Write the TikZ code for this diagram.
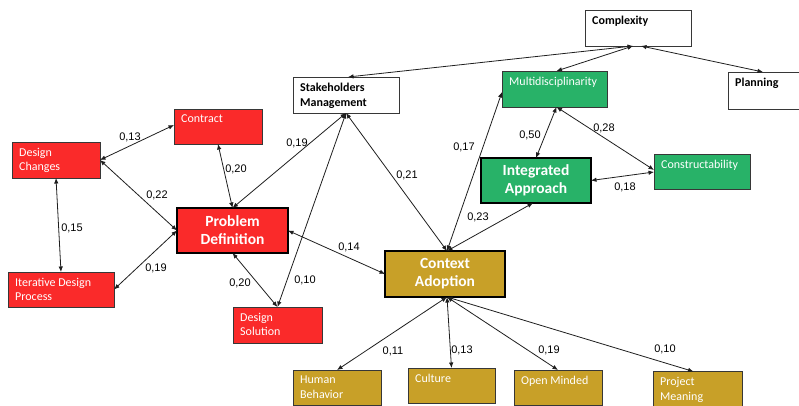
\documentclass[tikz,border=0pt]{standalone}
\usepackage{fontspec}
\setmainfont{Carlito}
\newfontfamily\numfont{Liberation Sans}
\usetikzlibrary{arrows.meta}
\definecolor{boxred}{RGB}{250,42,42}
\definecolor{boxgreen}{RGB}{40,178,104}
\definecolor{boxgold}{RGB}{200,160,40}
\definecolor{boxline}{RGB}{55,55,55}
\definecolor{linkcol}{RGB}{30,30,30}
\begin{document}
\begin{tikzpicture}[x=1pt,y=-1pt,
  box/.style={draw=boxline, line width=0.8pt, rectangle, inner sep=0pt, outer sep=0pt},
  small/.style={box, minimum width=#1, minimum height=35pt},
  big/.style={box, line width=1.3pt, draw=black, text=white, align=center,
    font=\fontsize{15.5}{18}\selectfont\bfseries},
  wtl/.style={label={[anchor=north west, inner sep=0pt, xshift=7pt, yshift=-6pt,
    align=left, text=white, font=\fontsize{12}{14.5}\selectfont]north west:#1}},
  ktl/.style={label={[anchor=north west, inner sep=0pt, xshift=7pt, yshift=-6pt,
    align=left, text=black, font=\fontsize{12}{14.5}\selectfont\bfseries]north west:#1}},
  link/.style={draw=linkcol, line width=0.8pt, {Latex[length=5.5pt,width=4.5pt]}-{Latex[length=5.5pt,width=4.5pt]}},
  lbl/.style={font=\numfont\fontsize{11}{13}\selectfont, inner sep=0pt, text=black}
]
\useasboundingbox (0,0) rectangle (799,406);

% top row: white context boxes
\node[small=106pt, minimum height=36pt, fill=white, ktl={Complexity}] (cx) at (638,28) {};
\node[small=106pt, minimum height=36pt, fill=white, ktl={Stakeholders\\Management}] (st) at (346,95) {};
\node[small=84pt, minimum height=37pt, fill=white, ktl={Planning}] (pl) at (770,90.5) {};

% green cluster
\node[small=105pt, minimum height=36pt, fill=boxgreen, wtl={Multidisciplinarity}] (mu) at (554.5,89) {};
\node[big, fill=boxgreen, minimum width=110pt, minimum height=45pt] (ig) at (536,180.5) {Integrated\\Approach};
\node[small=96pt, fill=boxgreen, wtl={Constructability}] (co) at (702,171.5) {};

% red cluster
\node[small=88pt, minimum height=36pt, fill=boxred, wtl={Design\\Changes}] (dc) at (56,160) {};
\node[small=88pt, fill=boxred, wtl={Contract}] (ct) at (218,126.5) {};
\node[big, fill=boxred, minimum width=111pt, minimum height=45pt] (pd) at (232.5,230.5) {Problem\\Definition};
\node[small=106pt, fill=boxred, wtl={Iterative Design\\Process}] (it) at (61,289.5) {};
\node[small=89pt, minimum height=36pt, fill=boxred, wtl={Design\\Solution}] (ds) at (277.5,325) {};

% gold cluster
\node[big, fill=boxgold, minimum width=120pt, minimum height=46pt] (ca) at (445,274) {Context\\Adoption};
\node[small=88pt, fill=boxgold, wtl={Human\\Behavior}] (hb) at (337,387.5) {};
\node[small=87pt, fill=boxgold, wtl={Culture}] (cu) at (451.5,385.5) {};
\node[small=88pt, fill=boxgold, wtl={Open Minded}] (om) at (558,387.5) {};
\node[small=89pt, fill=boxgold, wtl={Project\\Meaning}] (pm) at (697.5,389) {};

% connectors
\draw[link] ([xshift=-5pt]cx.south) -- ([xshift=2pt]st.north);
\draw[link] ([xshift=-5pt]cx.south) -- ([xshift=2pt]mu.north);
\draw[link] ([xshift=3pt]cx.south) -- ([xshift=-7pt]pl.north);

\draw[link] (st.south) -- (pd.north);
\draw[link] (st.south) -- (ds.north);
\draw[link] (st.south) -- ([xshift=2pt]ca.north);

\draw[link] ([xshift=2pt]ca.north) -- ([yshift=-3pt]mu.west);
\draw[link] ([xshift=2pt]ca.north) -- ([xshift=-3pt]ig.south);
\draw[link] ([xshift=2pt]mu.south) -- (ig.north);
\draw[link] ([xshift=2pt]mu.south) -- ([yshift=1.5pt]co.west);
\draw[link] (ig.east) -- ([yshift=-0.5pt]co.west);

\draw[link] (dc.east) -- ([yshift=1.5pt]ct.west);
\draw[link] (dc.east) -- (pd.west);
\draw[link] (dc.south) -- (it.north);
\draw[link] (it.east) -- (pd.west);
\draw[link] (ct.south) -- (pd.north);
\draw[link] (pd.south) -- (ds.north);
\draw[link] (pd.east) -- (ca.west);

\draw[link] ([xshift=2pt]ca.south) -- (hb.north);
\draw[link] ([xshift=2pt]ca.south) -- (cu.north);
\draw[link] ([xshift=2pt]ca.south) -- (om.north);
\draw[link] ([xshift=2pt]ca.south) -- ([xshift=-4pt]pm.north);

% path coefficients
\node[lbl] (w1) at (130,137) {0,13};
\node[lbl] (w2) at (157,195) {0,22};
\node[lbl] (w3) at (72,228) {0,15};
\node[lbl] (w4) at (156,268) {0,19};
\node[lbl] (w5) at (236,169) {0,20};
\node[lbl] (w6) at (297,143) {0,19};
\node[lbl] (w7) at (305,280) {0,10};
\node[lbl] (w8) at (407,175) {0,21};
\node[lbl] (w9) at (240,283) {0,20};
\node[lbl] (w10) at (349,247) {0,14};
\node[lbl] (w11) at (464,147) {0,17};
\node[lbl] (w12) at (478,217) {0,23};
\node[lbl] (w13) at (530,135) {0,50};
\node[lbl] (w14) at (604,128) {0,28};
\node[lbl] (w15) at (625,187) {0,18};
\node[lbl] (w16) at (393,351) {0,11};
\node[lbl] (w17) at (462,350) {0,13};
\node[lbl] (w18) at (549,350) {0,19};
\node[lbl] (w19) at (665,349) {0,10};
\end{tikzpicture}
\end{document}
